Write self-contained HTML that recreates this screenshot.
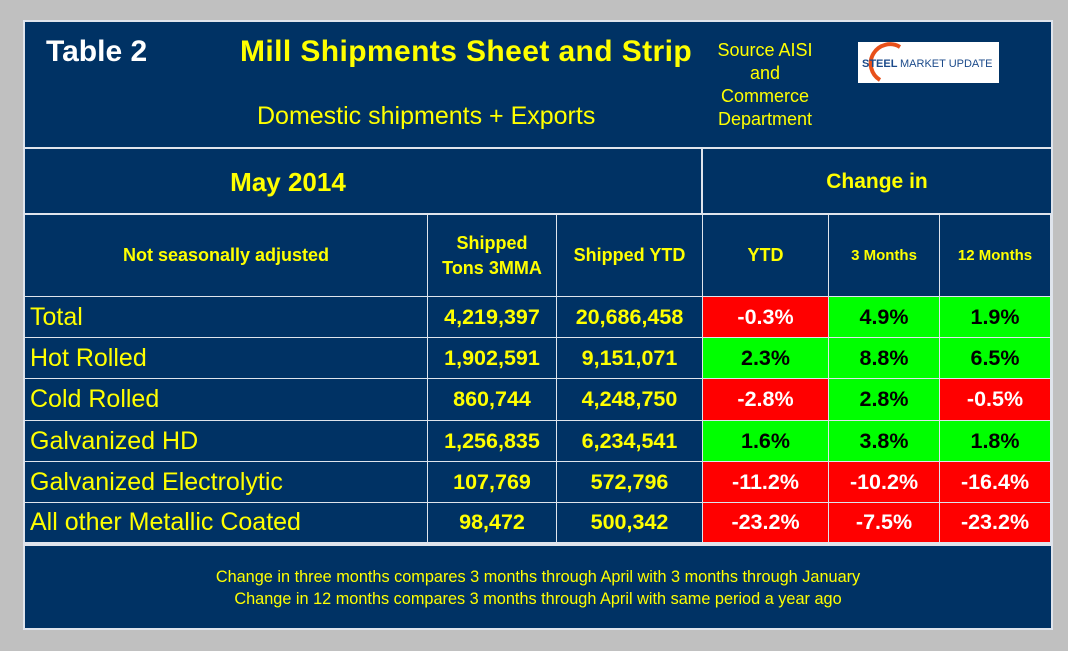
<!DOCTYPE html>
<html><head><meta charset="utf-8">
<style>
body{margin:0;width:1068px;height:651px;background:#c0c0c0;position:relative;overflow:hidden;font-family:"Liberation Sans",Arial,sans-serif}
.a{position:absolute;box-sizing:border-box}
.panel{left:23px;top:20px;width:1030px;height:610px;background:#003264;border:2px solid #dfe4ec}
.hl{background:#dfe4ec;height:2px}
.vl{background:#dfe4ec;width:2px}
.t{position:absolute;color:#ffff00;font-weight:bold;text-align:center;white-space:nowrap}
.c{position:absolute;box-sizing:border-box;display:flex;align-items:center;justify-content:center;font-weight:bold;font-size:20px}
</style></head><body>
<div class="a panel"></div>
<div class="t" style="left:46px;top:35px;color:#fff;font-size:30px">Table 2</div>
<div class="t" style="left:240px;top:35px;font-size:30px;letter-spacing:0.4px">Mill Shipments Sheet and Strip</div>
<div class="t" style="left:257px;top:102px;font-weight:normal;font-size:25px">Domestic shipments + Exports</div>
<div class="t" style="left:700px;top:39px;width:130px;font-weight:normal;font-size:18px;line-height:23px">Source AISI<br>and<br>Commerce<br>Department</div>
<div class="a" style="left:858px;top:42px;width:141px;height:41px;background:#fff">
<svg width="141" height="41"><path d="M22 38 A18 18 0 1 1 42 5" fill="none" stroke="#e8501a" stroke-width="4"/><text x="4" y="25" font-family="Liberation Sans" font-size="11" font-weight="bold" fill="#1b4a8a">STEEL</text><text x="42" y="25" font-family="Liberation Sans" font-size="11" fill="#1b4a8a">MARKET UPDATE</text></svg></div>
<div class="a hl" style="left:25px;top:147px;width:1026px"></div>
<div class="a vl" style="left:701px;top:149px;height:396px"></div>
<div class="t" style="left:25px;top:167px;width:526px;font-size:26px">May 2014</div>
<div class="t" style="left:703px;top:170px;width:348px;font-size:21px">Change in</div>
<div class="a hl" style="left:25px;top:213px;width:1026px"></div>
<div id="grid"></div>
<div class="a hl" style="left:25px;top:543px;width:1026px;height:3px"></div>
<div class="t" style="left:25px;top:566px;width:1026px;font-weight:normal;font-size:16.3px;line-height:22px">Change in three months compares 3 months through April with 3 months through January<br>Change in 12 months compares 3 months through April with same period a year ago</div>
<script>
const rowLabels=["Total","Hot Rolled","Cold Rolled","Galvanized HD","Galvanized Electrolytic","All other Metallic Coated"];
const tons3mma=["4,219,397","1,902,591","860,744","1,256,835","107,769","98,472"];
const shippedYtd=["20,686,458","9,151,071","4,248,750","6,234,541","572,796","500,342"];
const chgYtd=[-0.3,2.3,-2.8,1.6,-11.2,-23.2];
const chg3m=[4.9,8.8,2.8,3.8,-10.2,-7.5];
const chg12m=[1.9,6.5,-0.5,1.8,-16.4,-23.2];
const colX=[25,428,557,703,829,940,1051];
const rowY=[215,297,338,379,421,462,503,543];
const g=document.getElementById('grid');
function cell(x0,x1,y0,y1,html,bg,color,fs,just,name){
  const d=document.createElement('div');
  d.className='c';
  d.style.left=x0+'px';d.style.top=y0+'px';d.style.width=(x1-x0)+'px';d.style.height=(y1-y0)+'px';
  d.style.background=bg;d.style.color=color;d.style.fontSize=fs+'px';
  d.style.borderRight='1px solid #dfe4ec';d.style.borderBottom='1px solid #dfe4ec';
  if(just){d.style.justifyContent='flex-start';d.style.paddingLeft='5px';d.style.fontWeight='normal';}
  d.innerHTML=html;
  
  
  g.appendChild(d);
}
const heads=["Not seasonally adjusted","Shipped<br>Tons 3MMA","Shipped YTD","YTD","3 Months","12 Months"];
const headFs=[18,18,18,18,15,15];
heads.forEach((h,i)=>cell(colX[i],colX[i+1],rowY[0],rowY[1],'<span style="text-align:center;line-height:25px">'+h+'</span>','#003264','#ffff00',headFs[i],false,'column-header'));
rowLabels.forEach((lab,r)=>{
  const y0=rowY[r+1],y1=rowY[r+2];
  cell(colX[0],colX[1],y0,y1,lab,'#003264','#ffff00',25,true,'row-label');
  cell(colX[1],colX[2],y0,y1,tons3mma[r],'#003264','#ffff00',21.5,false,'tons-3mma-value');
  cell(colX[2],colX[3],y0,y1,shippedYtd[r],'#003264','#ffff00',21.5,false,'shipped-ytd-value');
  [chgYtd,chg3m,chg12m].forEach((arr,k)=>{
    const v=arr[r],neg=v<0;
    cell(colX[3+k],colX[4+k],y0,y1,v.toFixed(1)+'%',neg?'#ff0000':'#00ff00',neg?'#ffffff':'#000000',21.5,false,'change-cell');
  });
});
</script>
</body></html>
